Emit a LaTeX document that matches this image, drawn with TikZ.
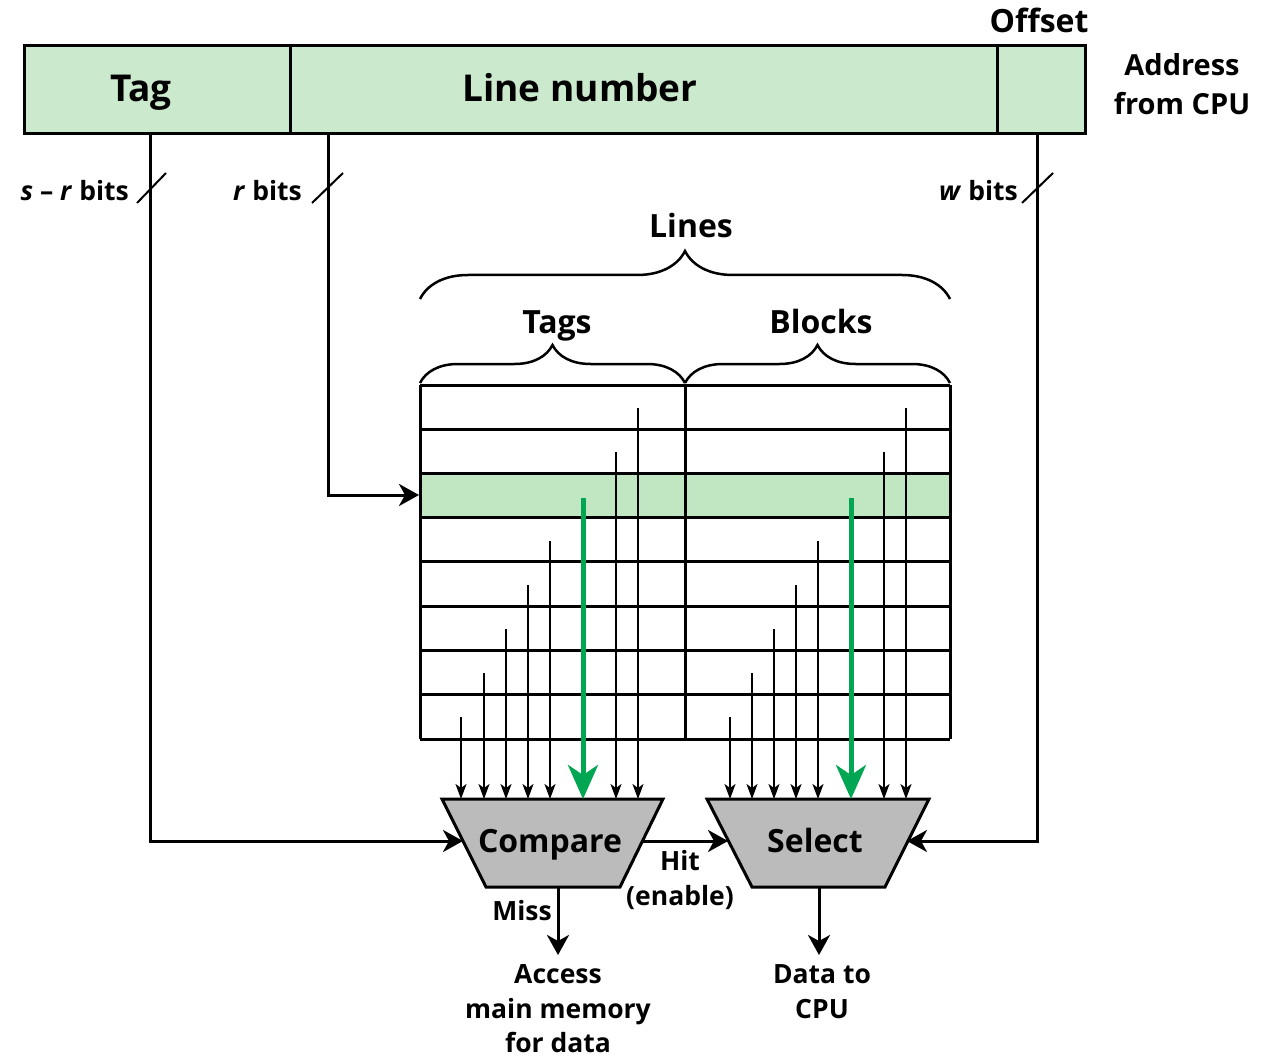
\documentclass[tikz,border=0pt]{standalone}
\usepackage{fontspec}
\setmainfont{Open Sans}
\usetikzlibrary{arrows.meta,decorations.pathreplacing,calc}
\definecolor{addrgreen}{HTML}{CBE9CC}
\definecolor{rowgreen}{HTML}{C0E6C2}
\definecolor{arrgreen}{HTML}{00A651}
\definecolor{boxgray}{HTML}{BBBBBB}
\tikzset{
  field/.style={draw=black, line width=3pt, fill=addrgreen, minimum height=88pt, inner sep=0pt},
  fbig/.style={font=\fontsize{37}{44}\selectfont\bfseries, inner sep=0pt, anchor=base},
  fmid/.style={font=\fontsize{32}{40}\selectfont\bfseries, inner sep=0pt, anchor=base},
  faddr/.style={font=\fontsize{29}{40}\selectfont\bfseries, inner sep=0pt, anchor=base},
  fsmall/.style={font=\fontsize{26.5}{35}\selectfont\bfseries, inner sep=0pt, anchor=base},
  conn/.style={line width=3pt, -{Stealth[length=20pt,width=22pt,inset=6pt]}},
  slash/.style={line width=2pt},
  grid/.style={line width=3pt},
  tap/.style={line width=2pt, -{Stealth[length=15pt,width=11pt,inset=4pt]}},
  gtap/.style={line width=5pt, arrgreen, -{Stealth[length=34pt,width=30pt,inset=10pt]}},
  gate/.style={draw=black, line width=3pt, fill=boxgray, line join=miter},
  bracestyle/.style={line width=2.5pt, decorate}
}
\begin{document}
\begin{tikzpicture}[x=1pt,y=-1pt]
\useasboundingbox (0,0) rectangle (1268,1056);

% address fields
\node[field, minimum width=266pt] (tagf) at (157,90) {};
\node[field, minimum width=707pt] (linef) at (643.5,90) {};
\node[field, minimum width=88pt] (offf) at (1041,90) {};
\node[fbig] (tagt) at (141,102) {Tag};
\node[fbig] (linet) at (580,102) {Line number};
\node[fmid] (offt) at (1039,33) {Offset};
\node[faddr] (addr1) at (1182,76) {Address};
\node[faddr] (addr2) at (1182,115) {from CPU};

% table
\fill[rowgreen] (420,473) rectangle (950,517);
\foreach \y in {385,429,473,517,561,606,650,694,739}
  \draw[grid] (420,\y) -- (950,\y);
\draw[grid] (420,385) -- (420,739);
\draw[grid] (685,385) -- (685,739);
\draw[grid] (950,385) -- (950,739);

% braces
\draw[bracestyle, decoration={brace, amplitude=38pt, aspect=0.5}] (420,383) -- (685,383);
\draw[bracestyle, decoration={brace, amplitude=38pt, aspect=0.5}] (685,383) -- (950,383);
\draw[bracestyle, decoration={brace, amplitude=48pt, aspect=0.5}] (420,299) -- (950,299);
\node[fmid] (tagsl) at (557,334) {Tags};
\node[fmid] (blocksl) at (821,334) {Blocks};
\node[fmid] (linesl) at (691,238) {Lines};

% gates
\draw[gate] (442,799) -- (663,799) -- (620,887) -- (486,887) -- cycle;
\draw[gate] (707,799) -- (929,799) -- (885,887) -- (752,887) -- cycle;
\node[fmid] (cmp) at (550,852) {Compare};
\node[fmid] (sel) at (815,852) {Select};
\coordinate (cmpL) at (463,841);
\coordinate (cmpR) at (642,841);
\coordinate (cmpB) at (558,887);
\coordinate (selL) at (728,841);
\coordinate (selR) at (907,841);
\coordinate (selB) at (819,887);

% taps into compare and select
\foreach \x/\y in {461/717,484/673,506/629,528/585,550/541,616/452,638/408}
  \draw[tap] (\x,\y) -- (\x,799);
\foreach \x/\y in {730/717,752/673,774/629,796/585,818/541,884/452,906/408}
  \draw[tap] (\x,\y) -- (\x,799);
\draw[gtap] (583,498) -- (583,799);
\draw[gtap] (851,498) -- (851,799);

% address wires
\coordinate (tagout) at (150,134);
\coordinate (lineout) at (328,134);
\coordinate (offout) at (1037,134);
\coordinate (rowin) at (419,495);
\draw[conn] (tagout) |- (cmpL);
\draw[conn] (lineout) |- (rowin);
\draw[conn] (offout) |- (selR);
\draw[slash] (137,203) -- (166,173);
\draw[slash] (312,203) -- (343,173);
\draw[slash] (1022,203) -- (1053,173);
\node[fsmall, anchor=base east] (srbits) at (129,201) {\textit{s} – \textit{r} bits};
\node[fsmall, anchor=base east] (rbits) at (302,201) {\textit{r} bits};
\node[fsmall, anchor=base east] (wbits) at (1018,201) {\textit{w} bits};

% outputs
\coordinate (missend) at (558,955);
\coordinate (dataend) at (819,955);
\draw[conn] (cmpR) -- (selL);
\draw[conn] (cmpB) -- (missend);
\draw[conn] (selB) -- (dataend);
\node[fsmall] (hit) at (680,870) {Hit};
\node[fsmall] (enable) at (680,905) {(enable)};
\node[fsmall, anchor=base east] (miss) at (552,920) {Miss};
\node[fsmall] (access1) at (558,983) {Access};
\node[fsmall] (access2) at (558,1018) {main memory};
\node[fsmall] (access3) at (558,1052) {for data};
\node[fsmall] (data1) at (822,983) {Data to};
\node[fsmall] (data2) at (822,1018) {CPU};
\end{tikzpicture}
\end{document}
